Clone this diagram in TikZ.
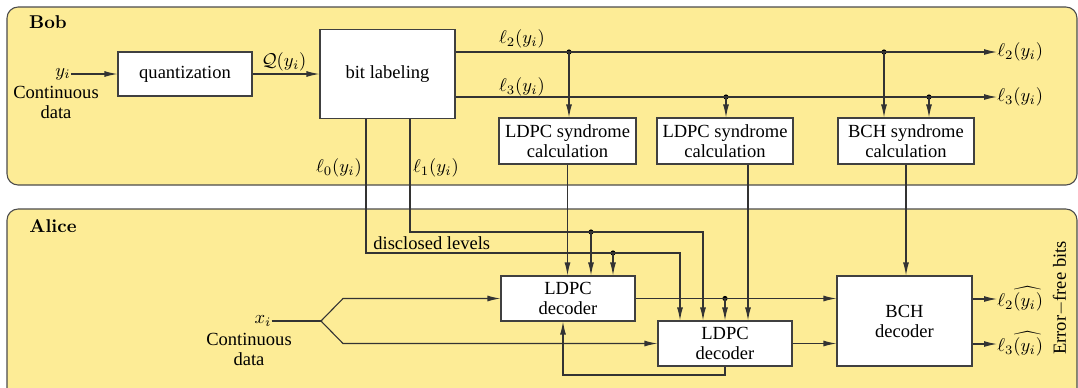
\documentclass[tikz,border=0pt]{standalone}
\usepackage{fontspec}
\setmainfont{Liberation Serif}
\newfontfamily\lmr{Latin Modern Roman}
\usetikzlibrary{arrows.meta}
\definecolor{panelfill}{HTML}{FDEC96}
\definecolor{ln}{HTML}{333333}
\newlength\pxu
\setlength\pxu{0.54pt}
\begin{document}
\begin{tikzpicture}[x=0.54pt,y=-0.54pt,
  font=\fontsize{10}{10.8}\selectfont,
  panelbox/.style={draw=black!70, fill=panelfill, rounded corners=6pt, line width=0.6pt},
  blk/.style={draw=black!75, fill=white, line width=0.6pt, align=center, inner sep=0pt},
  sz/.style 2 args={minimum width=#1\pxu, minimum height=#2\pxu},
  wire/.style={draw=ln, line width=0.6pt},
  arr/.style={wire, -{Latex[length=7pt,width=3.2pt]}},
  dotn/.style={circle, fill=black, inner sep=0pt, minimum size=2.8pt},
  lbl/.style={inner sep=0pt, align=center},
  title/.style={inner sep=0pt, font=\lmr\bfseries\fontsize{10}{12}\selectfont}]
\useasboundingbox (0,0) rectangle (1078,387);

% panels
\path[panelbox] (7,7) rectangle (1077,185);
\path[panelbox] (7,209) rectangle (1077,400);
\node[title] (bob) at (48,22) {Bob};
\node[title] (alice) at (53,226) {Alice};

% ---------------- Bob ----------------
\node[lbl] (yi) at (63,74) {$y_i$};
\node[lbl, anchor=north] (cont1) at (56,86) {Continuous\\data};
\node[blk, sz={134}{44}] (quant) at (185,74) {quantization};
\node[blk, sz={135}{89}] (bitlab) at (387.5,74) {bit labeling};
\node[lbl] (qlab) at (284,62) {$\mathcal{Q}(y_i)$};

\node[blk, sz={137}{46}] (syn1) at (567.5,141) {LDPC syndrome\\calculation};
\node[blk, sz={136}{46}] (syn2) at (725,141) {LDPC syndrome\\calculation};
\node[blk, sz={136}{46}] (synB) at (906,141) {BCH syndrome\\calculation};

\node[lbl] (l2lab) at (522,39) {$\ell_2(y_i)$};
\node[lbl] (l3lab) at (522,87) {$\ell_3(y_i)$};
\node[lbl] (l0lab) at (339,168) {$\ell_0(y_i)$};
\node[lbl] (l1lab) at (436,168) {$\ell_1(y_i)$};

\node[lbl, anchor=west] (o2) at (997,52) {$\ell_2(y_i)$};
\node[lbl, anchor=west] (o3) at (997,97) {$\ell_3(y_i)$};

\node[dotn] (d2a) at (569,52) {};
\node[dotn] (d2b) at (884,52) {};
\node[dotn] (d3a) at (726,97) {};
\node[dotn] (d3b) at (929,97) {};

\draw[arr] (yi.east) -- (quant.west);
\draw[arr] (quant.east) -- (bitlab.west);
\draw[arr] (bitlab.east |- d2a) -- (o2.west);
\draw[arr] (bitlab.east |- d3a) -- (o3.west);
\draw[arr] (d2a.center) -- (d2a |- syn1.north);
\draw[arr] (d3a.center) -- (d3a |- syn2.north);
\draw[arr] (d2b.center) -- (d2b |- synB.north);
\draw[arr] (d3b.center) -- (d3b |- synB.north);

% ---------------- Alice ----------------
\node[blk, sz={134}{45}] (dec1) at (568,298.5) {LDPC\\decoder};
\node[blk, sz={134}{45}] (dec2) at (725,343.5) {LDPC\\decoder};
\node[blk, sz={135}{90}] (bchd) at (904.5,321) {BCH\\decoder};

\node[lbl] (xi) at (263,321) {$x_i$};
\node[lbl, anchor=north] (cont2) at (249,333) {Continuous\\data};
\node[lbl, anchor=west] (disc) at (373,243) {disclosed levels};
\node[lbl, anchor=west] (oh2) at (997,299) {$\ell_2\widehat{(y_i)}$};
\node[lbl, anchor=west] (oh3) at (997,344) {$\ell_3\widehat{(y_i)}$};
\node[lbl, rotate=90] (efb) at (1060,298) {Error$-$free bits};

\coordinate (l0c) at (366,253);
\coordinate (l0e) at (680,253);
\coordinate (l1c) at (410,232);
\coordinate (l1e) at (703,232);
\node[dotn] (dl0) at (613,253) {};
\node[dotn] (dl1) at (591,232) {};
\node[dotn] (dd1) at (725,298.5) {};
\coordinate (s2x) at (748,0);
\coordinate (split) at (321,321);
\coordinate (su) at (343,298.5);
\coordinate (sd) at (343,343.5);
\coordinate (fb1) at (725,375);
\coordinate (fb2) at (563,375);

% level lines
\draw[arr] (bitlab.south -| l0c) -- (l0c) -- (l0e) -- (l0e |- dec2.north);
\draw[arr] (bitlab.south -| l1c) -- (l1c) -- (l1e) -- (l1e |- dec2.north);
\draw[arr] (dl0.center) -- (dl0 |- dec1.north);
\draw[arr] (dl1.center) -- (dl1 |- dec1.north);

% syndromes
\draw[arr] (syn1.south) -- (syn1.south |- dec1.north);
\draw[arr] (syn2.south -| s2x) -- (s2x |- dec2.north);
\draw[arr] (synB.south) -- (synB.south |- bchd.north);

% decoders
\draw[arr] (dec1.east) -- (bchd.west |- dec1.east);
\draw[arr] (dd1.center) -- (dd1 |- dec2.north);
\draw[arr] (dec2.east) -- (bchd.west |- dec2.east);
\draw[arr] (bchd.east |- oh2.west) -- (oh2.west);
\draw[arr] (bchd.east |- oh3.west) -- (oh3.west);
\draw[arr] (dec2.south) -- (fb1) -- (fb2) -- (fb2 |- dec1.south);

% input split
\draw[wire] (xi.east) -- (split);
\draw[arr] (split) -- (su) -- (dec1.west);
\draw[arr] (split) -- (sd) -- (dec2.west);
\end{tikzpicture}
\end{document}
